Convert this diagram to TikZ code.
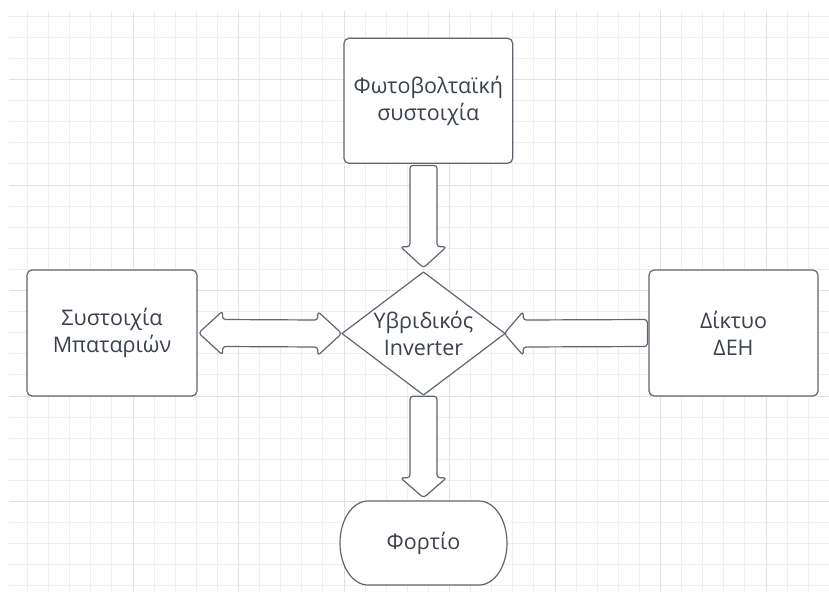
\documentclass[tikz,border=0pt]{standalone}
\usepackage{fontspec}
\setmainfont{Open Sans}
\usetikzlibrary{calc}
\definecolor{gridminor}{HTML}{EFEFEF}
\definecolor{gridmajor}{HTML}{E2E2E2}
\definecolor{edge}{HTML}{5F6670}
\definecolor{txt}{HTML}{3B424C}
\begin{document}
\begin{tikzpicture}[x=1pt,y=-1pt,
  lbl/.style={inner sep=0pt, align=center, text=txt, font=\fontsize{21.5}{27}\selectfont},
  box/.style={lbl, draw=edge, line width=1.2pt, fill=white, rounded corners=5pt},
  outline/.style={draw=edge, line width=1.2pt, fill=white, line join=round},
  barrow/.style={draw=edge, line width=1.2pt, fill=white, rounded corners=3pt, line join=round}]
\useasboundingbox (0,0) rectangle (829,592);
\fill[white] (0,0) rectangle (829,592);
% grid
\begin{scope}
\clip (9,11) rectangle (829,592);
\foreach \i in {-5,...,33} \draw[gridminor, line width=1pt] ({133+21.1*\i},11) -- ({133+21.1*\i},592);
\foreach \i in {-8,...,19} \draw[gridminor, line width=1pt] (9,{185+21.1*\i}) -- (829,{185+21.1*\i});
\foreach \i in {0,...,6} \draw[gridmajor, line width=1pt] ({133+105.5*\i},11) -- ({133+105.5*\i},592);
\foreach \i in {-1,...,3} \draw[gridmajor, line width=1pt] (9,{185+105.5*\i}) -- (829,{185+105.5*\i});
\end{scope}
% boxes
\node[box, minimum width=168.7pt, minimum height=125pt] (pv) at (428.3,100.8) {Φωτοβολταϊκή\\συστοιχία};
\node[box, minimum width=170pt, minimum height=126pt] (bat) at (112,333) {Συστοιχία\\Μπαταριών};
\node[box, minimum width=169pt, minimum height=126pt] (dei) at (733.5,333) {Δίκτυο\\ΔΕΗ};
% inverter diamond
\coordinate (invc) at (423.5,333.5);
\draw[outline] ($(invc)+(0,-61.5)$) -- ($(invc)+(81.5,0)$) -- ($(invc)+(0,61.5)$) -- ($(invc)+(-81.5,0)$) -- cycle;
\node[lbl, minimum width=163pt, minimum height=123pt] (inv) at (invc) {Υβριδικός\\Inverter};
% load terminal
\coordinate (loadc) at (423.5,543);
\draw[outline] ($(loadc)+(-55.5,-42)$) -- ($(loadc)+(55.5,-42)$)
  .. controls ($(loadc)+(71,-42)$) and ($(loadc)+(83.5,-23.2)$) .. ($(loadc)+(83.5,0)$)
  .. controls ($(loadc)+(83.5,23.2)$) and ($(loadc)+(71,42)$) .. ($(loadc)+(55.5,42)$)
  -- ($(loadc)+(-55.5,42)$)
  .. controls ($(loadc)+(-71,42)$) and ($(loadc)+(-83.5,23.2)$) .. ($(loadc)+(-83.5,0)$)
  .. controls ($(loadc)+(-83.5,-23.2)$) and ($(loadc)+(-71,-42)$) .. ($(loadc)+(-55.5,-42)$) -- cycle;
\node[lbl, minimum width=167pt, minimum height=84pt] (load) at (loadc) {Φορτίο};
% arrow PV -> inverter
\draw[barrow] ($(inv.north |- pv.south)+(-13.5,1.5)$) -- ($(inv.north)+(-13.5,-25)$) -- ($(inv.north)+(-23,-25)$)
  -- ($(inv.north)+(0,-4)$) -- ($(inv.north)+(23,-25)$) -- ($(inv.north)+(13.5,-25)$)
  -- ($(inv.north |- pv.south)+(13.5,1.5)$) -- cycle;
% arrow inverter -> load
\draw[barrow] ($(inv.south)+(-13.5,1)$) -- ($(load.north)+(-13.5,-23)$) -- ($(load.north)+(-23,-23)$)
  -- ($(load.north)+(0,-3)$) -- ($(load.north)+(23,-23)$) -- ($(load.north)+(13.5,-23)$)
  -- ($(inv.south)+(13.5,1)$) -- cycle;
% double arrow battery <-> inverter
\draw[barrow] ($(bat.east)+(1,0)$) -- ($(bat.east)+(25,-22)$) -- ($(bat.east)+(25,-13.5)$)
  -- ($(inv.west)+(-24,-13.5)$) -- ($(inv.west)+(-24,-22)$) -- (inv.west)
  -- ($(inv.west)+(-24,22)$) -- ($(inv.west)+(-24,13.5)$) -- ($(bat.east)+(25,13.5)$)
  -- ($(bat.east)+(25,22)$) -- cycle;
% arrow grid -> inverter
\draw[barrow] ($(inv.east)+(-1,0)$) -- ($(inv.east)+(18,-22)$) -- ($(inv.east)+(18,-13.5)$)
  -- ($(dei.west)+(-1,-13.5)$) -- ($(dei.west)+(-1,13.5)$) -- ($(inv.east)+(18,13.5)$)
  -- ($(inv.east)+(18,22)$) -- cycle;
\end{tikzpicture}
\end{document}
